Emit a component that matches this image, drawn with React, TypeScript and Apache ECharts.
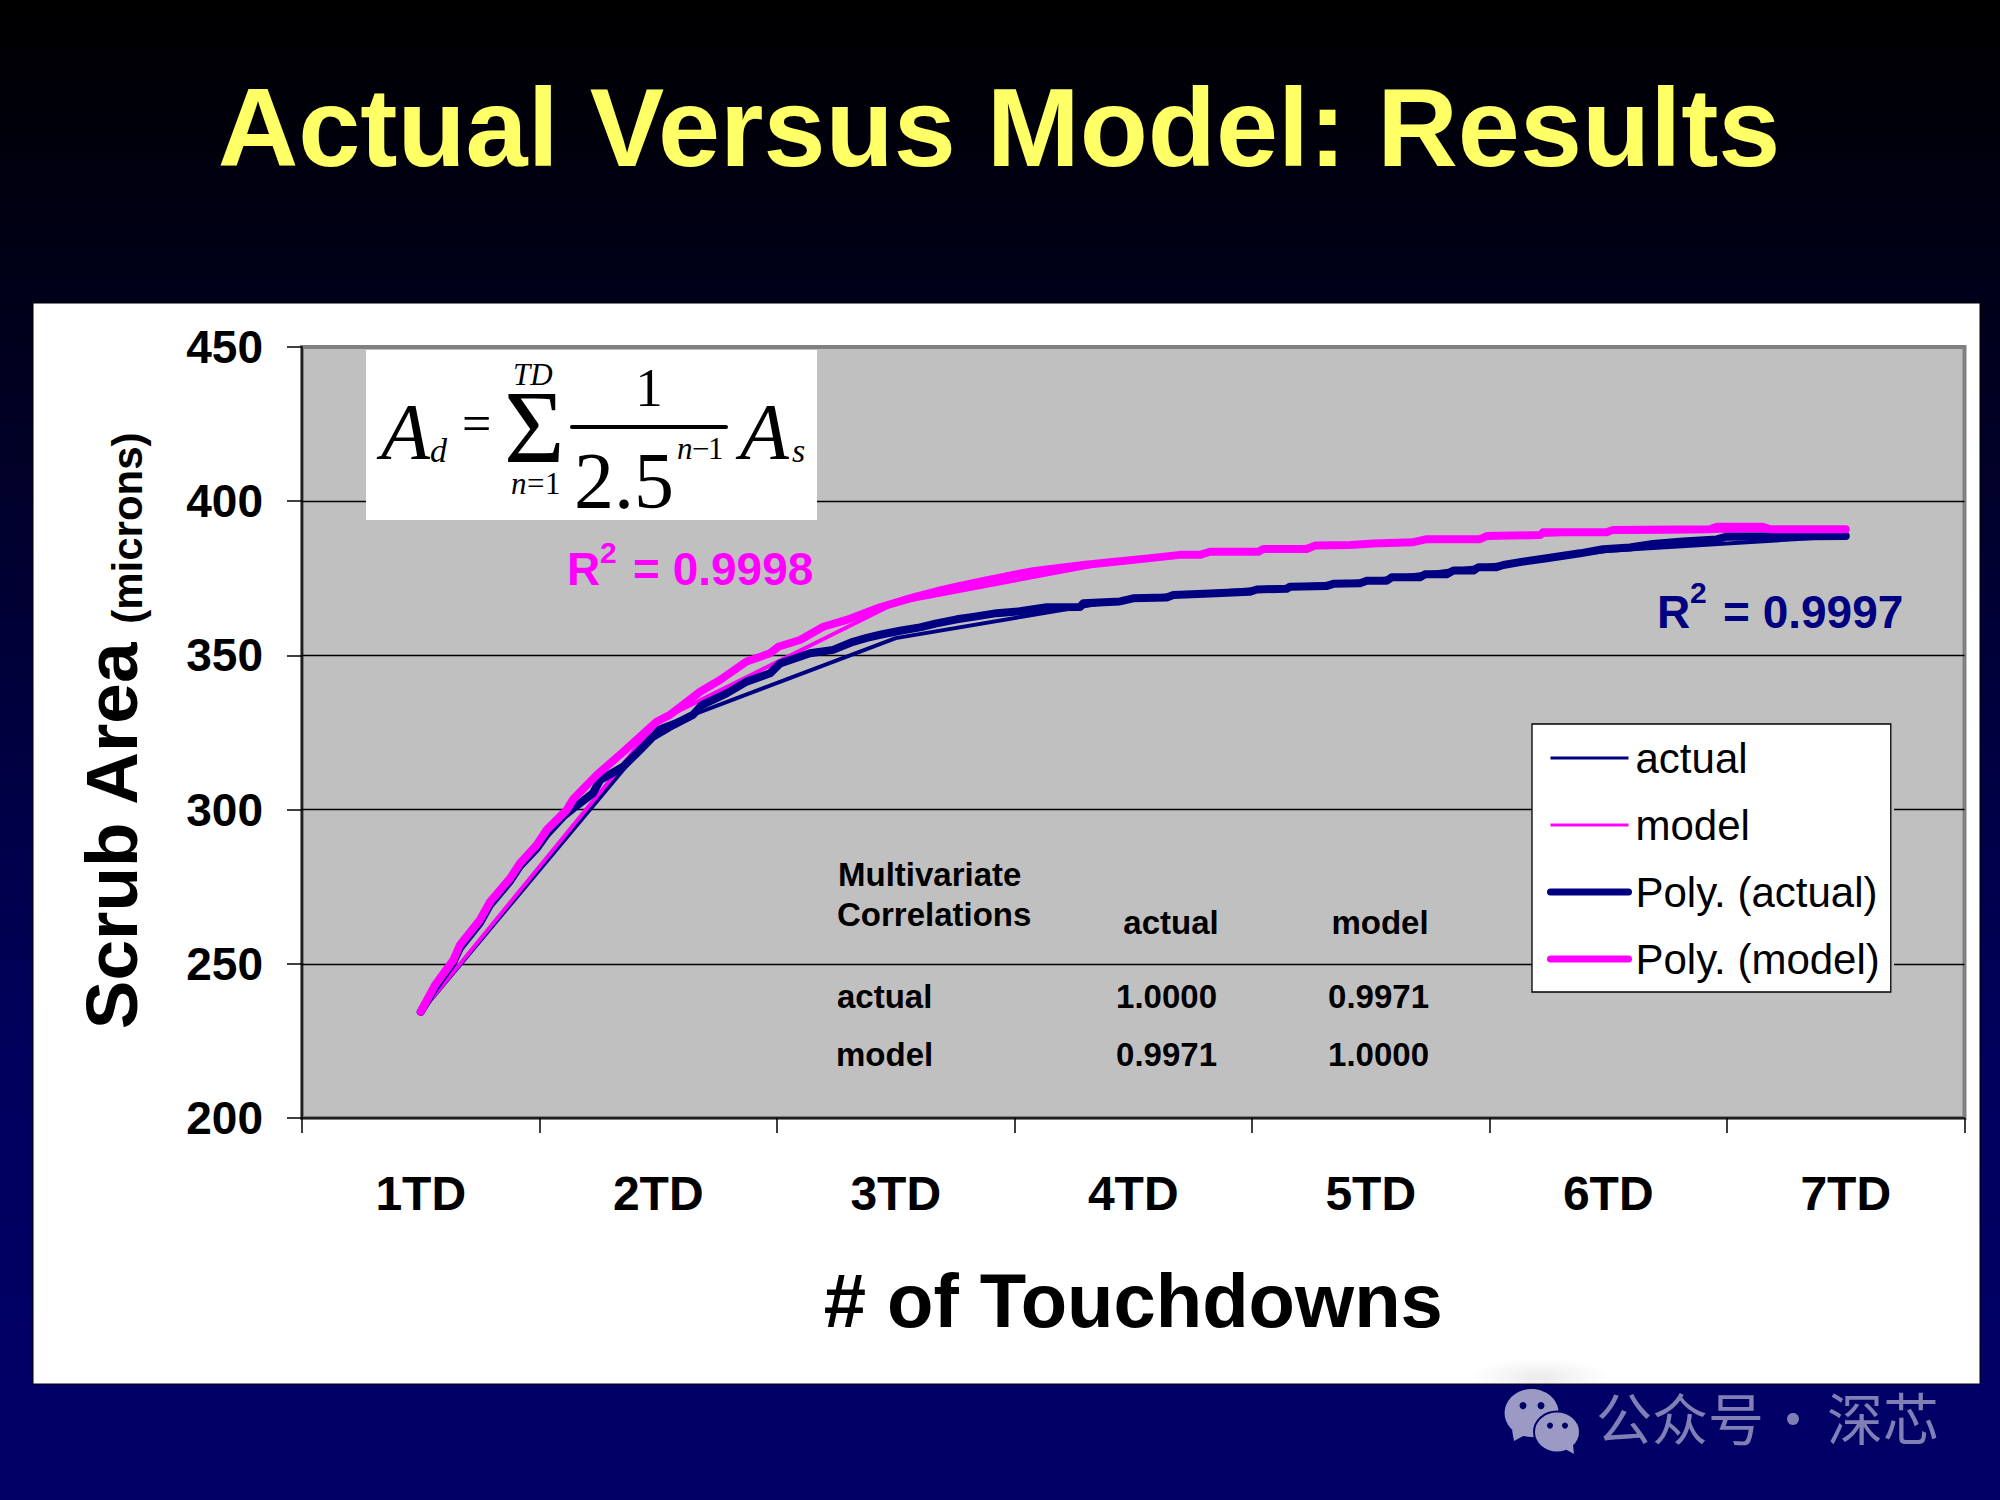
import React, { useEffect, useRef } from "react";
import * as echarts from "echarts";

const categories = ["1TD", "2TD", "3TD", "4TD", "5TD", "6TD", "7TD"];
const actual = [234.4, 326.5, 355.6, 368.6, 374.3, 383.9, 388.7];
const model = [234.4, 328.7, 367, 381.5, 386.6, 390, 390.8];

const polyActualX = [1, 1.06, 1.136, 1.165, 1.249, 1.292, 1.376, 1.418, 1.489, 1.532, 1.599, 1.642, 1.725, 1.755, 1.852, 1.923, 1.978, 2.062, 2.146, 2.183, 2.288, 2.372, 2.471, 2.513, 2.639, 2.736, 2.82, 2.878, 2.934, 3.018, 3.102, 3.172, 3.257, 3.326, 3.425, 3.523, 3.636, 3.776, 3.79, 3.944, 4, 4.141, 4.169, 4.323, 4.492, 4.52, 4.646, 4.66, 4.815, 4.842, 4.955, 4.983, 5.067, 5.088, 5.207, 5.228, 5.32, 5.348, 5.432, 5.453, 5.53, 5.558, 5.641, 5.741, 5.881, 5.978, 6.091, 6.188, 6.315, 6.457, 6.499, 7];
const polyActual = [234.4, 242.2, 250.3, 255.1, 263.2, 269.1, 276.8, 281.7, 287.5, 292.1, 297.7, 300.4, 305.3, 309.6, 313.9, 319.3, 323.6, 327.4, 330.7, 333.9, 337.7, 341.5, 344.2, 347.4, 350.7, 351.8, 354.4, 355.7, 356.7, 358, 359.1, 360.4, 361.7, 362.5, 363.7, 364.3, 365.6, 365.7, 366.9, 367.5, 368.5, 368.8, 369.6, 370.1, 370.6, 371.4, 371.6, 372.3, 372.5, 373.2, 373.4, 374.2, 374.2, 375.3, 375.3, 376.3, 376.3, 377.5, 377.5, 378.6, 378.6, 379.3, 380.4, 381.5, 383.1, 384.4, 385, 386.1, 386.9, 387.6, 388.5, 388.7];
const polyModelX = [1, 1.06, 1.137, 1.165, 1.249, 1.292, 1.376, 1.418, 1.488, 1.53, 1.615, 1.642, 1.741, 1.846, 1.993, 2.049, 2.176, 2.26, 2.372, 2.471, 2.505, 2.597, 2.695, 2.793, 2.934, 3.074, 3.172, 3.257, 3.355, 3.495, 3.579, 3.678, 3.79, 3.902, 4.042, 4.197, 4.281, 4.323, 4.527, 4.548, 4.73, 4.765, 4.913, 5.011, 5.179, 5.236, 5.46, 5.488, 5.713, 5.725, 5.993, 6.02, 6.428, 6.457, 6.652, 6.681, 7];
const polyModel = [234.5, 243.1, 251.2, 256.1, 264.2, 270.1, 277.7, 282.6, 288.5, 293.4, 299.9, 303.4, 311.2, 318.3, 328.5, 330.7, 338.2, 342, 348, 350.7, 352.8, 355, 359.3, 361.5, 365.6, 368.8, 370.8, 372.3, 373.9, 376.1, 377.3, 378.3, 379.3, 380.2, 381.3, 382.6, 382.6, 383.6, 383.6, 384.5, 384.5, 385.6, 385.8, 386.3, 386.7, 387.7, 387.7, 388.7, 389, 389.9, 389.9, 390.7, 390.9, 391.7, 391.7, 390.9, 390.9];

const tableHeader = ["actual", "model"];
const tableRows = [
  { label: "actual", values: ["1.0000", "0.9971"] },
  { label: "model", values: ["0.9971", "1.0000"] },
];

const NAVY = "#000080";
const MAGENTA = "#FF00FF";
const SANS = "'Liberation Sans', Arial, sans-serif";
const SERIF = "'Liberation Serif', 'Times New Roman', serif";

// y is the wanted baseline; zrender places text by its line box top.
const top = (baseline: number, size: number) => baseline - 0.85 * size;

const serif = (text: string, x: number, y: number, size: number, italic = false, align = "left") => ({
  type: "text",
  z: 5,
  silent: true,
  style: { text, x, y: top(y, size), fill: "#000", font: `${italic ? "italic " : ""}${size}px ${SERIF}`, textAlign: align, textBaseline: "top" },
});
const bold = (text: string, x: number, y: number, size: number, fill = "#000", align = "left") => ({
  type: "text",
  z: 5,
  silent: true,
  style: { text, x, y: top(y, size), fill, font: `bold ${size}px ${SANS}`, textAlign: align, textBaseline: "top" },
});
const mark = (text: string, x: number, y: number, align = "left") => ({
  type: "text",
  z: 5,
  silent: true,
  style: { text, x, y: top(y, 56), fill: "#8080B6", font: "56px 'Noto Sans CJK SC'", textAlign: align, textBaseline: "top" },
});

export default function App() {
  const ref = useRef<HTMLDivElement>(null);
  useEffect(() => {
    document.body.style.margin = "0";
    const chart = echarts.init(ref.current!, null, { renderer: "svg" });
    const graphic: any[] = [
      { type: "rect", z: -10, silent: true, shape: { x: 33, y: 303, width: 1947, height: 1081 }, style: { fill: "#fff", stroke: "#000", lineWidth: 1 } },
      { type: "rect", z: -9, silent: true, shape: { x: 1470, y: 1345, width: 140, height: 38 }, style: { fill: { type: "radial", x: 0.5, y: 0.85, r: 0.5, colorStops: [{ offset: 0, color: "rgba(0,0,0,0.08)" }, { offset: 1, color: "rgba(0,0,0,0)" }] } } },
      { type: "rect", z: 1, silent: true, shape: { x: 1889, y: 960, width: 5, height: 8 }, style: { fill: "#C0C0C0" } },
      { type: "rect", z: 1, silent: true, shape: { x: 1889, y: 807, width: 5, height: 8 }, style: { fill: "#C0C0C0" } },
      { type: "rect", z: 4, silent: true, shape: { x: 366, y: 350, width: 451, height: 170 }, style: { fill: "#fff" } },
      serif("A", 381, 460, 80, true),
      serif("d", 430, 462, 34, true),
      serif("=", 462, 442, 52),
      serif("Σ", 504, 463, 104),
      serif("TD", 513, 385, 31, true),
      serif("n", 511, 494, 31, true),
      serif("=", 527, 494, 31),
      serif("1", 545, 494, 31),
      serif("1", 649, 407, 55, false, "center"),
      { type: "rect", z: 5, silent: true, shape: { x: 570, y: 425, width: 158, height: 4, r: 2 }, style: { fill: "#000" } },
      serif("2.5", 574, 509, 80),
      serif("n", 677, 459, 31, true),
      serif("−", 692, 459, 31),
      serif("1", 708, 459, 31),
      serif("A", 740, 460, 80, true),
      serif("s", 792, 462, 34, true),
      bold("R", 567, 585, 46, MAGENTA),
      bold("2", 600, 563, 30, MAGENTA),
      bold("= 0.9998", 633, 585, 46, MAGENTA),
      bold("R", 1657, 628, 46, NAVY),
      bold("2", 1690, 603, 30, NAVY),
      bold("= 0.9997", 1723, 628, 46, NAVY),
      bold("Multivariate", 838, 886, 33),
      bold("Correlations", 837, 926, 33),
      bold(tableHeader[0], 1171, 934, 33, "#000", "center"),
      bold(tableHeader[1], 1380, 934, 33, "#000", "center"),
      bold(tableRows[0].label, 837, 1008, 33),
      bold(tableRows[0].values[0], 1217, 1008, 33, "#000", "right"),
      bold(tableRows[0].values[1], 1429, 1008, 33, "#000", "right"),
      bold(tableRows[1].label, 836, 1066, 33),
      bold(tableRows[1].values[0], 1217, 1066, 33, "#000", "right"),
      bold(tableRows[1].values[1], 1429, 1066, 33, "#000", "right"),
      { type: "ellipse", z: 5, silent: true, shape: { cx: 1531.6, cy: 1413, rx: 27, ry: 24 }, style: { fill: "#9A9AC4" } },
      { type: "polygon", z: 5, silent: true, shape: { points: [[1512, 1430], [1514, 1441], [1527, 1434]] }, style: { fill: "#9A9AC4" } },
      { type: "ellipse", z: 5, silent: true, shape: { cx: 1557, cy: 1432, rx: 23, ry: 20.5 }, style: { fill: "#9A9AC4", stroke: "#000066", lineWidth: 2 } },
      { type: "polygon", z: 5, silent: true, shape: { points: [[1565, 1449], [1574, 1454], [1573, 1445]] }, style: { fill: "#9A9AC4" } },
      { type: "circle", z: 6, silent: true, shape: { cx: 1523, cy: 1405.6, r: 3.5 }, style: { fill: "#000066" } },
      { type: "circle", z: 6, silent: true, shape: { cx: 1541, cy: 1405.6, r: 3.5 }, style: { fill: "#000066" } },
      { type: "circle", z: 6, silent: true, shape: { cx: 1550, cy: 1425.6, r: 3 }, style: { fill: "#000066" } },
      { type: "circle", z: 6, silent: true, shape: { cx: 1565, cy: 1425.6, r: 3 }, style: { fill: "#000066" } },
      mark("公众号", 1596, 1435),
      mark("·", 1793, 1435, "center"),
      mark("深芯", 1827, 1435),
    ];

    const legendItem = (name: string, color: string, width: number) => ({
      name,
      itemStyle: { opacity: 0 },
      lineStyle: { color, width },
    });

    chart.setOption({
      animation: false,
      backgroundColor: {
        type: "linear", x: 0, y: 0, x2: 0, y2: 1,
        colorStops: [
          { offset: 0, color: "#000000" },
          { offset: 0.2, color: "#00001A" },
          { offset: 0.7, color: "#00005C" },
          { offset: 0.92, color: "#000066" },
          { offset: 1, color: "#000066" },
        ],
      },
      title: {
        text: "Actual Versus Model: Results",
        left: 994,
        top: 66,
        textAlign: "center",
        textStyle: { color: "#FFFF66", fontFamily: SANS, fontWeight: "bold", fontSize: 111.6 },
      },
      grid: {
        show: true,
        left: 302,
        top: 347,
        width: 1662.5,
        height: 771,
        backgroundColor: "#C0C0C0",
        borderColor: "#808080",
        borderWidth: 4,
      },
      legend: {
        left: 1532,
        top: 724,
        orient: "vertical",
        selectedMode: false,
        backgroundColor: "#fff",
        borderColor: "#000",
        borderWidth: 1.3,
        borderRadius: 0,
        padding: [13, 11, 12, 15],
        itemWidth: 78,
        itemHeight: 10,
        itemGap: 25,
        textStyle: { color: "#000", fontFamily: SANS, fontSize: 42, lineHeight: 40, padding: [0, 0, 0, 2] },
        data: [
          legendItem("actual", NAVY, 3),
          legendItem("model", MAGENTA, 3),
          legendItem("Poly. (actual)", NAVY, 7),
          legendItem("Poly. (model)", MAGENTA, 7),
        ],
      },
      xAxis: [
        {
          type: "category",
          data: categories,
          boundaryGap: true,
          name: "# of Touchdowns",
          nameLocation: "middle",
          nameGap: 144,
          nameTextStyle: { color: "#000", fontFamily: SANS, fontWeight: "bold", fontSize: 76 },
          axisLine: { show: true, lineStyle: { color: "#000", width: 1.5 } },
          axisTick: { show: true, length: 15, alignWithLabel: false, lineStyle: { color: "#000", width: 1.5 } },
          axisLabel: { interval: 0, margin: 51, color: "#000", fontFamily: SANS, fontWeight: "bold", fontSize: 48 },
          splitLine: { show: false },
        },
        { type: "value", min: 0.5, max: 7.5, show: false, splitLine: { show: false } },
      ],
      yAxis: {
        type: "value",
        min: 200,
        max: 450,
        interval: 50,
        name: "{a|Scrub Area} {b|(microns)}",
        nameLocation: "middle",
        nameRotate: 90,
        nameGap: 154,
        nameTextStyle: {
          rich: {
            a: { color: "#000", fontFamily: SANS, fontWeight: "bold", fontSize: 73, padding: [0, 0, 0, 2] },
            b: { color: "#000", fontFamily: SANS, fontWeight: "bold", fontSize: 42, verticalAlign: "bottom", padding: [0, 0, 0, 14] },
          },
        },
        axisLine: { show: true, lineStyle: { color: "#000", width: 1.5 } },
        axisTick: { show: true, length: 15, lineStyle: { color: "#000", width: 1.5 } },
        axisLabel: { margin: 39, color: "#000", fontFamily: SANS, fontWeight: "bold", fontSize: 46 },
        splitLine: { show: true, showMinLine: false, showMaxLine: false, lineStyle: { color: "#000", width: 1.3 } },
      },
      graphic,
      series: [
        { name: "actual", type: "line", xAxisIndex: 0, symbol: "none", data: actual, lineStyle: { color: NAVY, width: 4 }, itemStyle: { color: NAVY }, z: 2 },
        { name: "model", type: "line", xAxisIndex: 0, symbol: "none", data: model, lineStyle: { color: MAGENTA, width: 4 }, itemStyle: { color: MAGENTA }, z: 2 },
        { name: "Poly. (actual)", type: "line", xAxisIndex: 1, symbol: "none", data: polyActualX.map((x, i) => [x, polyActual[i]]), lineStyle: { color: NAVY, width: 8, cap: "round", join: "round" }, itemStyle: { color: NAVY }, z: 3 },
        { name: "Poly. (model)", type: "line", xAxisIndex: 1, symbol: "none", data: polyModelX.map((x, i) => [x, polyModel[i]]), lineStyle: { color: MAGENTA, width: 8, cap: "round", join: "round" }, itemStyle: { color: MAGENTA }, z: 3 },
      ],
    });
    return () => chart.dispose();
  }, []);
  return <div ref={ref} style={{ position: "absolute", left: 0, top: 0, width: 2000, height: 1500 }} />;
}
